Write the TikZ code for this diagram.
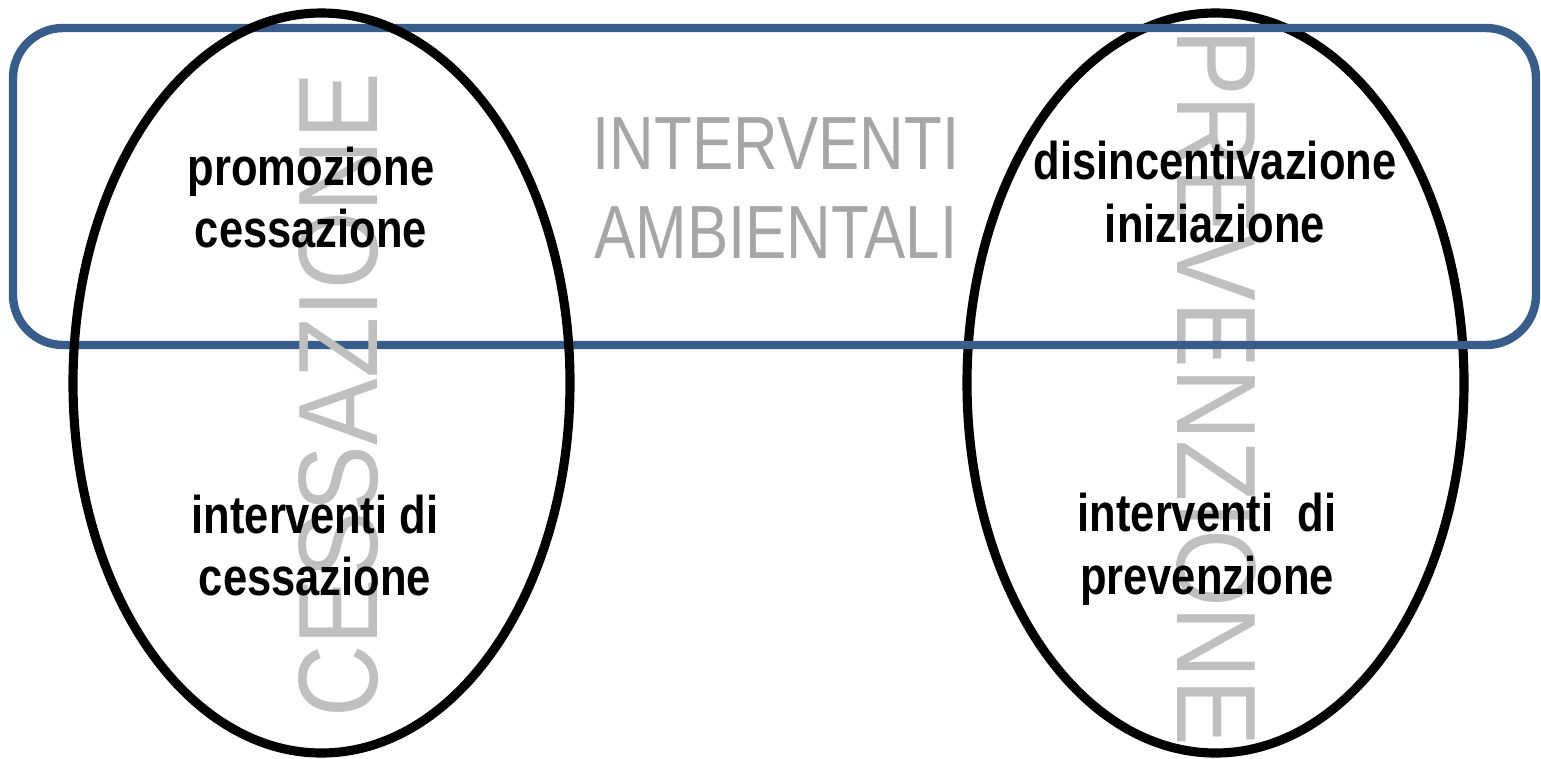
\documentclass[tikz,border=0pt]{standalone}
\usepackage{fontspec}
\setmainfont{Liberation Sans}
\newfontfamily\narrowsans[FakeStretch=0.82]{Liberation Sans}
\newfontfamily\widesans[FakeStretch=0.885]{Liberation Sans}
\definecolor{framblue}{HTML}{385D8A}
\definecolor{ambgray}{HTML}{A6A6A6}
\definecolor{wordgray}{HTML}{BFBFBF}

\begin{document}
\begin{tikzpicture}[every node/.style={inner sep=0pt, outer sep=0pt, align=center},
  itemtext/.style={font=\narrowsans\bfseries\fontsize{15.1}{17.9}\selectfont},
  ambtext/.style={font=\narrowsans\fontsize{21.45}{25.4}\selectfont, text=ambgray},
  bigword/.style={font=\widesans\fontsize{32.15}{38}\selectfont, text=wordgray},
  ring/.style={draw=black, line width=2.6pt},
  ambframe/.style={draw=framblue, line width=2.4pt, rounded corners=0.5cm}]
\useasboundingbox (0,0) rectangle (15.41,7.58);

\node[bigword, rotate=-90] (prev) at (12.16,3.705) {PREVENZIONE};
\draw[ring] (12.155,3.75) ellipse [x radius=2.485, y radius=3.70];
\draw[ambframe] (0.13,4.13) rectangle (15.36,7.30);
\draw[ring] (3.215,3.75) ellipse [x radius=2.485, y radius=3.70];
\node[bigword, rotate=90] (cess) at (3.39,3.625) {CESSAZIONE};

\node[ambtext] (amb) at (7.76,5.696) {INTERVENTI\\AMBIENTALI};

\node[itemtext] (promo) at (3.11,5.605) {promozione\\cessazione};
\node[itemtext] (intcess) at (3.15,2.125) {interventi di\\cessazione};
\node[itemtext] (disinc) at (12.15,5.66) {disincentivazione\\iniziazione};
\node[itemtext] (intprev) at (12.07,2.085) {interventi\ \ di\\prevenzione};
\end{tikzpicture}
\end{document}
